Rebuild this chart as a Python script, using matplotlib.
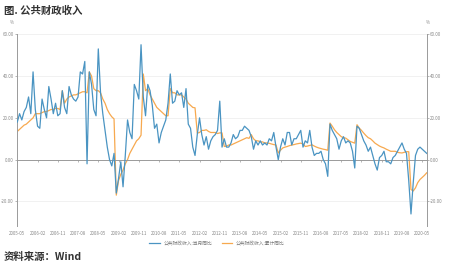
import numpy as np
import matplotlib
matplotlib.use("Agg")
import matplotlib.pyplot as plt

plt.rcParams['font.family'] = ['Noto Sans CJK SC', 'DejaVu Sans']

# monthly yoy growth, 2005-05 .. 2020-07
monthly = [18, 22, 19, 23, 25, 30, 22, 42, 24, 16,
           15, 29, 24, 20, 35, 29, 22, 27, 21, 22,
           33, 25, 22, 35, 31, 29, 28, 30, 42, 41,
           47, -2, 42, 36, 24, 21, 53, 32, 22, 14,
           6, 0, -3, 3, -16, -9, -1, -13, 2, 19,
           13, 10, 36, 33, 29, 55, 30, 21, 36, 33,
           26, 15, 17, 8, 13, 16, 19, 27, 41, 27,
           28, 33, 31, 32, 25, 34, 17, 15, 6, 2,
           12, 20, 12, 7, 11, 5, 9, 11, 12, 14,
           28, 6, 10, 6, 6, 8, 12, 10, 11, 14,
           14, 16, 15, 14, 11, 5, 9, 7, 9, 7,
           8, 7, 10, 9, 13, 6, 0, 6, 10, 7,
           13, 13, 7, 10, 10, 12, 14, 6, 9, 8,
           14, 6, 2, 3, 3, 4, 0, -2, -8, 17,
           14, 12, 10, 5, 9, 11, 8, 9, 8, 4,
           -4, 16, 15, 12, 9, 7, 4, 6, 2, -2,
           -5, 1, 2, 4, -1, -1, -2, 1, 2, 4,
           6, 8, 5, 3, -10, -26, -11, 2, 5, 6,
           5, 4, 3]

# cumulative yoy growth
cumulative = [13.5, 14.5, 15.5, 16.5, 17, 18, 19, 20, 22, 22,
              22, 22.5, 23, 23, 23.5, 24, 24, 24.5, 24.5, 24,
              33, 27, 29, 30, 30.5, 31, 31, 31.5, 32, 32.5,
              32.5, 32, 42, 40, 34, 33, 33, 32, 29, 27,
              24, 22, 20.5, 19.5, -17, -10, -7, -5, -2, 0,
              3, 5, 7, 9, 10, 11.7, 41, 33, 34, 31,
              29, 27, 25, 24, 23, 22, 21, 21, 34, 32,
              32, 31, 31, 31, 30, 29, 27, 26, 25, 24.8,
              12.7, 13, 14, 14, 14.3, 13.5, 13, 13, 13, 12.5,
              12.8, 12.8, 6.3, 6.5, 7, 7, 7.5, 8, 8.5, 9,
              9.5, 10, 10.5, 10.2, 12, 10, 9, 9, 8.5, 8.5,
              8, 8, 7.8, 7.5, 7.2, 7, 3.2, 4.5, 5.6, 6,
              6.3, 6.7, 7, 7.2, 7.5, 7.7, 7.9, 7.5, 6.3, 6.5,
              6.8, 7.1, 6.5, 6, 5.6, 5.3, 5, 4.8, 4.5, 17.5,
              16, 14.3, 13, 12, 11, 10.5, 10.3, 9.5, 8.7, 8.3,
              7.9, 16.7, 15.1, 14, 12.7, 11.5, 10.5, 10, 9, 7.9,
              7.2, 6.5, 6, 5.6, 5, 4.5, 4, 4, 4, 3.5,
              3.3, 3.2, 3.5, 3.8, 3.8, -14.3, -15, -13.5, -11, -9.5,
              -8.5, -7.5, -6.3]

tick_labels = ['2005-05', '2006-02', '2006-11', '2007-08', '2008-05', '2009-02',
               '2009-11', '2010-08', '2011-05', '2012-02', '2012-11', '2013-08',
               '2014-05', '2015-02', '2015-11', '2016-08', '2017-05', '2018-02',
               '2018-11', '2019-08', '2020-05']
y_ticks = [-20, 0, 20, 40, 60]

x = np.arange(len(monthly))
blue = '#4a94c2'
orange = '#f7a94f'
gray = '#9a9a9a'

fig = plt.figure(figsize=(4.52, 2.66), dpi=100)
ax = fig.add_axes([0.0383, 0.1485, 0.9058, 0.7226])

ax.plot(x, monthly, color=blue, lw=0.9, label='公共财政收入:当月同比', zorder=3)
ax.plot(x, cumulative, color=orange, lw=0.9, label='公共财政收入:累计同比', zorder=2)

ax.set_xlim(0, len(monthly) - 1)
ax.set_ylim(-32, 60)

for v in y_ticks:
    if v != 0:
        ax.axhline(v, color='#efefef', lw=0.6, zorder=0)

for s in ['top', 'right']:
    ax.spines[s].set_visible(False)
ax.spines['left'].set_color(gray)
ax.spines['left'].set_linewidth(0.7)
ax.spines['bottom'].set_position(('data', 0))
ax.spines['bottom'].set_color(gray)
ax.spines['bottom'].set_linewidth(0.7)

ax.set_xticks(np.arange(0, len(monthly), 9))
ax.tick_params(axis='x', length=1.5, width=0.5, color=gray, labelbottom=False)
ax.set_yticks(y_ticks)
ax.set_yticklabels(['%.2f' % v for v in y_ticks])
ax.tick_params(axis='y', length=1.5, width=0.5, color=gray, labelsize=3.2,
               labelcolor='#888888', pad=1)

sec = ax.secondary_xaxis(0.0)
sec.set_xticks(np.arange(0, len(monthly), 9))
sec.set_xticklabels(tick_labels)
sec.spines['bottom'].set_visible(False)
sec.tick_params(length=0, labelsize=3.2, labelcolor='#888888', pad=3)

right = ax.secondary_yaxis('right')
right.set_yticks(y_ticks)
right.set_yticklabels(['%.2f' % v for v in y_ticks])
right.spines['right'].set_color(gray)
right.spines['right'].set_linewidth(0.7)
right.tick_params(length=1.5, width=0.5, color=gray, labelsize=3.2,
                  labelcolor='#888888', pad=1)

fig.text(12 / 452, 1 - 24 / 266, '%', fontsize=3.2, color='#888888', ha='center')
fig.text(428 / 452, 1 - 24 / 266, '%', fontsize=3.2, color='#888888', ha='center')

fig.legend(loc='center', bbox_to_anchor=(0.48, 1 - 243 / 266), ncol=2,
           frameon=False, fontsize=3.4, handlelength=2.2, columnspacing=2,
           labelcolor='#777777')

fig.text(4 / 452, 1 - 11 / 266, '图. 公共财政收入', fontsize=7.5,
         fontweight='bold', color='#333333', va='center')
fig.text(4 / 452, 1 - 257 / 266, '资料来源：Wind', fontsize=7.5,
         fontweight='bold', color='#333333', va='center')

fig.savefig('out.png', dpi=100)
